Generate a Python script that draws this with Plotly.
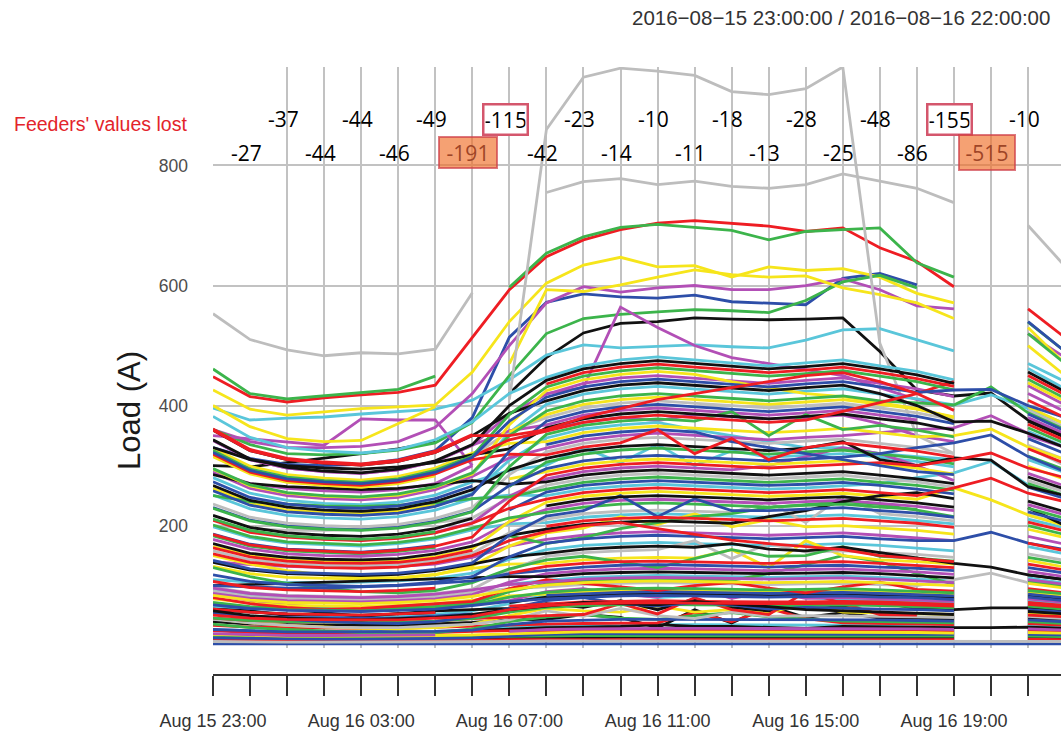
import plotly.graph_objects as go
from itertools import zip_longest

# Hourly timestamps, 2016-08-15 23:00 .. 2016-08-16 22:00
times = [
    "2016-08-15 23:00", "2016-08-16 00:00", "2016-08-16 01:00", "2016-08-16 02:00",
    "2016-08-16 03:00", "2016-08-16 04:00", "2016-08-16 05:00", "2016-08-16 06:00",
    "2016-08-16 07:00", "2016-08-16 08:00", "2016-08-16 09:00", "2016-08-16 10:00",
    "2016-08-16 11:00", "2016-08-16 12:00", "2016-08-16 13:00", "2016-08-16 14:00",
    "2016-08-16 15:00", "2016-08-16 16:00", "2016-08-16 17:00", "2016-08-16 18:00",
    "2016-08-16 19:00", "2016-08-16 20:00", "2016-08-16 21:00", "2016-08-16 22:00",
]

# Number of feeders without a reading, per hour (Aug 16 00:00 .. 21:00)
lost_counts = [27, 37, 44, 44, 46, 49, 191, 115, 42, 23, 14, 10, 11, 18, 13, 28, 25, 48, 86, 155, 515, 10]

# Feeder loads (A), one list of 24 hourly readings per feeder, None = reading lost
black_feeders = [
    [300, 298, 305, 312, 320, 328, 339, None, 420, 480, 521, 537, 540, 546, 544, 543, 544, 546, 490, 426, 416, 421, 376, 350],
    [11, 10, 9, 9, 9, 9, 10, 10, 12, 13, 14, 14, 14, 14, 14, 14, 14, 14, 14, 13, 13, None, 14, 13],
    [26, 24, 22, 22, 22, 22, 23, 25, 28, 30, 31, 32, 35, 32, 32, 31, 29, 32, 31, 31, 30, 30, 31, 29],
    [40, 36, 35, 34, 34, 34, 36, 39, 43, 44, 52, 47, 30, 60, 38, 66, 47, 55, 46, 45, 44, None, 46, 42],
    [61, 58, 50, 55, 49, 53, 58, 60, 62, 70, 64, 75, 60, 78, 64, 58, 70, 65, 72, 62, 60, 63, 63, 59],
    [61, 56, 53, 52, 51, 53, 55, None, 72, 81, 84, 86, 87, 86, 85, 84, 85, 86, 84, 83, 80, None, 83, 77],
    [100, 102, 104, 106, 108, 110, 112, 113, 115, 115, 120, 122, 123, 122, 121, 120, 121, 122, 120, 117, 113, None, 118, 110],
    [139, 126, 120, 118, 117, 119, 125, 136, 148, 154, 161, 164, 166, 164, 170, 161, 158, 164, 155, 145, 137, 131, 118, 110],
    [170, 154, 147, 144, 143, 145, 153, 166, 184, 194, 202, 206, 208, 206, 204, 215, 225, 240, 250, 255, 245, None, 230, 200],
    [217, 197, 188, 184, 182, 186, 195, 212, None, 233, 243, 248, 250, 248, 246, 243, 246, 248, 243, 238, 231, None, 241, 223],
    [285, 270, 265, 262, 260, 262, 268, 275, 269, 273, 284, 290, 293, 290, 287, 284, 287, 290, 284, 278, 270, None, 281, 261],
    [267, 242, 231, 226, 224, 228, 240, 260, 293, 312, 325, 332, 335, 332, 329, 325, 329, 340, 310, 300, 313, 309, 265, 250],
    [330, 310, 300, 296, 294, 298, 305, 318, 328, 363, 378, 386, 390, 386, 382, 378, 382, 386, 378, 371, 359, None, 374, 347],
    [359, 325, 310, 304, 301, 307, 322, 350, 387, 408, 425, 434, 438, 434, 430, 425, 430, 434, 420, 400, 373, 374, 354, 330],
    [343, 311, 297, 291, 288, 294, 308, 335, 400, 442, 461, 470, 475, 470, 465, 461, 465, 470, 461, 451, 437, None, 456, 423],
    [58, 50, 46, 44, 43, 45, 47, 52, 60, 66, 72, 70, 68, 74, 70, 65, 60, 58, 56, 55, 52, None, 57, 53],
]

red_feeders = [
    [448, 415, 406, 413, 418, 422, 434, 513, 593, 648, 676, 693, 704, 708, 704, 699, 690, 696, 663, 640, 598, None, 561, 513],
    [9, 9, 8, 8, 8, 8, 9, 9, 10, 10, 11, 11, 11, 11, 11, 11, 11, 11, 11, 11, 10, None, 11, 10],
    [25, 22, 21, 21, 21, 21, 22, 24, 25, 24, 25, 26, 26, 26, 26, 25, 26, 26, 25, 25, 24, None, 25, 23],
    [34, 31, 30, 29, 29, 29, 31, 33, 35, 36, 37, 38, 38, 55, 40, 62, 45, 38, 37, 36, 35, None, 37, 34],
    [46, 42, 40, 39, 39, 39, 41, 45, 48, 50, 52, 70, 53, 80, 60, 52, 90, 70, 52, 51, None, None, 51, 48],
    [61, 56, 53, 52, 51, 53, 55, None, 66, 70, 73, 74, 75, 74, 73, 73, 73, 74, 73, 71, 69, None, 72, 67],
    [80, 70, 64, 60, 62, 66, 70, 74, 95, 110, 104, 98, 92, 100, 105, 96, 88, 98, 106, 94, 91, None, 95, 88],
    [107, 97, 93, 91, 90, 92, 96, None, 121, 132, 137, 140, 141, 140, 139, 137, 139, 140, 137, 134, 130, None, 136, 126],
    [153, 139, 133, 130, 129, 131, 138, 150, 175, 190, 200, 205, 195, 185, 176, 170, 165, 160, 150, 145, 140, None, 171, 158],
    [163, 148, 141, 138, 137, 139, 146, 159, None, 199, 208, 212, 214, 212, 210, 208, 210, 212, 208, 204, 197, None, 206, 191],
    [209, 189, 181, 177, 175, 179, 188, 204, 229, 244, 255, 260, 263, 260, 257, 255, 257, 260, 255, 250, 263, 279, 254, 240],
    [185, 168, 160, 157, 155, 159, 166, 181, 241, 284, 296, 302, 305, 302, 299, 296, 299, 302, 305, 300, 309, 321, 296, 280],
    [319, 289, 275, 270, 267, 273, 286, 310, 319, 318, 331, 338, 360, 320, 345, 310, 330, 338, 331, 324, 314, None, 328, 304],
    [323, 293, 279, 274, 271, 277, 290, 315, 343, 357, 372, 380, 384, 380, 376, 372, 376, 390, 405, 420, 440, None, 369, 342],
    [359, 325, 310, 304, 301, 307, 322, 350, 350, 360, 380, 395, 410, 420, 430, 440, 450, 455, 440, 420, 392, None, 409, 380],
    [361, 327, 312, 306, 303, 309, 324, 352, None, 436, 455, 464, 469, 464, 459, 455, 459, 464, 455, 445, 432, None, 450, 418],
    [51, 46, 44, 43, 43, 43, 46, 49, 60, 67, 70, 71, 72, 71, 70, 70, 70, 71, 70, 68, 66, None, 69, 64],
]

green_feeders = [
    [461, 420, 411, 416, 421, 427, 449, None, 597, 654, 681, 697, 702, 697, 692, 676, 690, 693, 696, 638, 614, None, 539, 490],
    [360, 335, 320, 318, 320, 326, 338, 372, 450, 520, 545, 552, 556, 560, 558, 555, 575, 606, 617, 596, None, None, 520, 470],
    [15, 14, 13, 13, 13, 13, 14, 15, 16, 16, 17, 17, 17, 17, 17, 17, 17, 17, 17, 16, 16, None, 16, 15],
    [36, 30, 27, 24, 22, 20, 22, 28, 40, 48, 52, 46, 44, 50, 55, 48, 45, 41, 40, 39, 38, None, 40, 37],
    [46, 42, 40, 39, 39, 39, 41, 45, 56, 64, 67, 68, 69, 68, 67, 67, 67, 68, 67, 65, 63, None, 66, 61],
    [72, 65, 62, 61, 60, 62, 65, 70, 90, 103, 108, 110, 111, 110, 109, 120, 135, 150, 140, 120, 102, None, 107, 99],
    [130, 115, 104, 96, 90, 88, 92, 105, 128, 143, 149, 140, 130, 145, 160, 149, 150, 165, 149, 146, 141, None, 147, 137],
    [183, 166, 158, 155, 153, 157, 164, None, 183, 170, 180, 195, 205, 215, 220, 230, 235, 240, 235, 226, 215, None, 200, 185],
    [201, 182, 173, 170, 168, 172, 180, 196, 213, 222, 231, 236, 238, 236, 234, 231, 234, 236, 231, 227, None, None, 229, 212],
    [250, 240, 236, 233, 232, 234, 238, 245, 248, 261, 272, 278, 281, 278, 275, 272, 275, 278, 272, 267, 259, None, 270, 250],
    [211, 192, 183, 179, 177, 181, 190, None, 265, 306, 319, 326, 329, 326, 323, 319, 323, 326, 319, 313, 303, None, 316, 293],
    [229, 208, 198, 194, 192, 196, 206, 223, 298, 352, 367, 374, 378, 374, 390, 350, 385, 360, 367, 359, 348, None, 363, 337],
    [295, 268, 255, 250, 248, 253, 265, 288, 350, 391, 408, 416, 420, 416, 412, 408, 412, 416, 408, 405, 401, 431, 388, 360],
    [325, 294, 281, 275, 272, 278, 292, 316, 385, 431, 449, 458, 463, 458, 453, 449, 453, 458, 449, 440, 426, None, 444, 412],
    [70, 63, 60, 59, 58, 60, 63, 68, 81, 89, 93, 95, 96, 95, 94, 93, 94, 95, 93, 91, 88, None, 92, 86],
]

blue_feeders = [
    [330, 312, 302, 300, 302, 310, 325, 380, 514, 572, 586, 581, 579, 584, 573, 570, 568, 612, 620, 601, None, None, 540, 490],
    [3, 3, 3, 3, 3, 3, 3, 3, 3, 3, 3, 3, 3, 3, 3, 3, 3, 3, 3, 3, 3, 3, 3, 3],
    [13, 12, 11, 11, 11, 11, 12, 13, 16, 19, 20, 20, 20, 20, 20, 20, 20, 20, 20, 19, 19, None, 19, 18],
    [27, 25, 23, 23, 23, 23, 24, 26, 35, 41, 43, 44, 44, 44, 44, 43, 44, 44, 43, 42, 41, None, 43, 40],
    [55, 48, 44, 40, 38, 37, 40, 48, 62, 75, 80, 70, 66, 72, 68, 61, 64, 62, 61, 60, 58, None, 60, 56],
    [54, 49, 47, 46, 46, 46, 49, 53, None, 84, 87, 89, 90, 89, 88, 87, 88, 89, 87, 85, 83, None, 86, 80],
    [100, 98, 96, 96, 98, 100, 104, 108, 120, 126, 131, 134, 135, 134, 133, 131, 133, 134, 131, 129, 125, None, 130, 121],
    [118, 107, 102, 100, 99, 101, 106, 115, 148, 171, 178, 182, 184, 182, 180, 178, 180, 182, 178, 175, 175, 189, 171, 160],
    [142, 128, 122, 120, 119, 121, 127, 138, 184, 216, 225, 250, 215, 245, 225, 225, 228, 230, 225, 221, 214, None, 223, 207],
    [186, 169, 161, 158, 156, 160, 167, None, 226, 256, 267, 272, 275, 272, 269, 267, 269, 272, 267, 261, 253, None, 264, 245],
    [230, 209, 199, 195, 193, 197, 207, 224, 267, 295, 308, 314, 317, 314, 311, 308, 311, 314, 320, 330, 338, 351, 315, 290],
    [273, 247, 236, 231, 229, 233, 245, 266, None, 335, 349, 356, 360, 356, 340, 330, 320, 310, 300, 290, 285, None, 345, 320],
    [258, 234, 223, 219, 217, 221, 232, 252, 324, 374, 390, 398, 402, 398, 394, 390, 394, 398, 390, 382, 370, None, 386, 358],
    [322, 292, 278, 273, 270, 276, 289, 314, 374, 414, 431, 440, 444, 440, 436, 431, 436, 440, 431, 422, 426, 427, 400, 380],
    [68, 62, 59, 58, 57, 59, 61, 67, 74, 78, 81, 83, 84, 83, 82, 81, 82, 83, 81, 80, 77, None, 81, 75],
]

cyan_feeders = [
    [396, 376, 379, 381, 386, 390, 394, 409, 443, 484, 501, 496, 498, 501, 498, 496, 509, 526, 528, 509, 491, None, 470, 440],
    [27, 25, 23, 23, 23, 23, 24, 26, 31, 33, 34, 35, 35, 35, 35, 34, 35, 35, 34, 34, 33, None, 34, 32],
    [66, 58, 52, 49, 47, 48, 52, 58, 70, 85, 90, 88, 80, 84, 92, 86, 80, 77, 75, 74, 72, None, 75, 69],
    [93, 85, 81, 79, 78, 80, 84, None, 102, 109, 114, 116, 117, 116, 115, 114, 115, 116, 114, 111, 108, None, 113, 104],
    [110, 106, 105, 105, 106, 108, 112, 121, 144, 160, 167, 170, 172, 170, 168, 167, 168, 170, 167, 163, 158, None, 165, 153],
    [198, 180, 171, 168, 166, 170, 178, 193, 203, 205, 214, 218, 220, 218, 216, 214, 216, 218, 214, 209, 203, None, 211, 196],
    [251, 228, 217, 213, 211, 215, 226, 245, 251, 250, 261, 266, 269, 266, 263, 261, 263, 266, 270, 280, 288, 307, 268, 250],
    [280, 254, 242, 237, 235, 239, 251, 273, 292, 301, 330, 305, 335, 300, 325, 314, 317, 320, 314, 307, 298, None, 310, 288],
    [261, 236, 225, 221, 219, 223, 234, 254, 309, 346, 361, 368, 372, 360, 350, 340, 330, 330, 320, 315, 310, None, 357, 331],
    [293, 265, 253, 248, 246, 250, 263, 285, 355, 402, 419, 428, 432, 428, 424, 419, 424, 428, 419, 411, 401, 418, 395, 370],
    [382, 347, 330, 324, 321, 327, 343, 373, 420, 447, 466, 476, 481, 476, 471, 466, 471, 476, 466, 457, 443, None, 462, 428],
]

magenta_feeders = [
    [360, 340, 330, 330, 332, 340, 364, 420, 500, 571, 598, 589, 596, 600, 593, 593, 600, 611, 593, 566, 561, None, 520, 480],
    [350, 345, 340, 334, 378, 376, 376, 300, None, 360, 372, 380, 375, 385, 382, 378, 380, 384, 370, 350, 340, None, 350, 330],
    [290, 270, 262, 258, 256, 260, 270, 300, None, 420, 430, 564, 530, 500, 480, 470, 460, 450, 430, 410, 400, None, 420, 390],
    [20, 18, 17, 17, 17, 17, 18, None, 24, 27, 28, 29, 29, 29, 29, 28, 29, 29, 28, 28, 27, None, 28, 26],
    [85, 75, 68, 64, 62, 63, 66, 71, 75, 90, 95, 85, 81, 96, 79, 90, 79, 80, 78, 77, 74, None, 78, 72],
    [87, 79, 75, 74, 73, 75, 78, 85, 106, 120, 125, 128, 129, 128, 127, 125, 127, 128, 125, 123, 119, None, 124, 115],
    [140, 135, 132, 130, 130, 132, 136, 147, 166, 177, 184, 188, 190, 188, 186, 184, 186, 188, 184, 180, 175, None, 182, 169],
    [177, 161, 153, 150, 149, 152, 159, 173, 206, 227, 237, 242, 244, 242, 240, 237, 240, 242, 237, 232, 225, None, 235, 218],
    [210, 190, 182, 178, 176, 180, 189, 205, 249, 278, 290, 296, 299, 296, 293, 300, 315, 330, 320, 300, 275, None, 287, 266],
    [289, 262, 250, 245, 243, 247, 260, 282, 313, 329, 343, 350, 354, 350, 347, 343, 347, 350, 355, 360, 363, 383, 354, 330],
    [342, 310, 296, 290, 287, 293, 307, 334, 358, 368, 384, 392, 396, 392, 388, 384, 388, 392, 384, 376, None, None, 380, 353],
    [342, 310, 296, 290, 287, 293, 307, 334, 386, 419, 437, 446, 450, 446, 442, 437, 442, 446, 437, 428, 415, None, 433, 401],
    [96, 87, 83, 81, 80, 82, 86, 93, 102, 106, 111, 113, 114, 113, 112, 111, 112, 113, 111, 108, 105, None, 110, 102],
]

yellow_feeders = [
    [426, 394, 384, 389, 395, 398, 401, 456, 540, 604, 634, 647, 631, 633, 614, 631, 625, 628, 614, 587, 571, None, 530, 470],
    [400, 365, 345, 340, 342, 370, 398, None, 470, 593, 590, 601, 614, 626, 618, 614, 616, 596, 585, 571, 545, None, 500, 450],
    [19, 17, 16, 16, 16, 16, 17, 18, 20, 22, 23, 23, 23, 23, 23, 22, 23, 23, 23, 22, 21, None, 22, 21],
    [45, 38, 34, 31, 29, 28, 30, 36, 50, 62, 58, 56, 66, 56, 60, 55, 70, 56, 55, 54, 52, None, 54, 50],
    [78, 71, 67, 66, 65, 67, 70, 76, 83, 86, 90, 92, 93, 92, 91, 90, 91, 92, 90, 88, 86, None, 89, 83],
    [132, 120, 114, 112, 111, 113, 119, 129, 136, 137, 143, 146, 147, 146, 160, 130, 175, 150, 143, 140, 136, None, 142, 131],
    [150, 136, 125, 118, 114, 113, 118, 133, 166, 188, 196, 215, 202, 220, 198, 210, 198, 200, 196, 192, 186, None, 194, 180],
    [165, 150, 143, 140, 139, 141, 148, 161, 207, 239, 249, 254, 257, 254, 251, 249, 251, 254, 249, 244, 263, 243, 218, 200],
    [262, 238, 226, 222, 220, 224, 235, None, 278, 290, 302, 308, 311, 308, 305, 302, 305, 308, 302, 296, 286, None, 299, 277],
    [329, 299, 285, 279, 276, 282, 296, 321, 337, 340, 355, 362, 366, 362, 358, 355, 358, 362, 355, 348, 350, 361, 331, 310],
    [315, 286, 272, 267, 264, 270, 283, None, 356, 385, 402, 410, 414, 410, 406, 402, 406, 410, 402, 394, 381, None, 398, 369],
    [294, 266, 254, 249, 247, 251, 264, 286, 368, 425, 443, 452, 457, 452, 440, 430, 420, 415, 405, 395, 380, None, 438, 407],
    [84, 76, 72, 71, 70, 72, 75, 82, 93, 101, 105, 107, 108, 107, 106, 105, 106, 107, 105, 103, 100, None, 104, 96],
]

gray_feeders = [
    [553, 510, 493, 483, 488, 486, 494, 588, None, 755, 773, 778, 768, 774, 765, 762, 768, 786, 774, 762, 738, None, 700, 632],
    [260, 245, 236, 232, 230, 232, 240, None, 410, 860, 947, 962, 957, 950, 923, 918, 928, 964, 504, 350, 320, None, 330, 300],
    [7, 6, 6, 6, 6, 6, 6, 7, 7, 8, 8, 8, 8, 8, 8, 8, 8, 8, 8, 8, 7, 7, 8, 7],
    [44, 38, 34, 31, 30, 30, 33, 36, 43, 58, 49, 62, 50, 45, 56, 49, 50, 50, 49, 48, 47, None, 49, 45],
    [91, 82, 79, 77, 76, 78, 82, 89, 95, 98, 102, 104, 105, 104, 103, 102, 103, 104, 102, 100, 110, 121, 105, 97],
    [97, 88, 84, 82, 81, 83, 87, 94, 126, 149, 155, 158, 160, 175, 145, 170, 156, 158, 155, 152, 147, None, 153, 142],
    [158, 143, 137, 134, 133, 135, 142, 154, 188, 211, 220, 224, 226, 224, 222, 240, 205, 250, 220, 215, 208, None, 217, 202],
    [200, 195, 192, 192, 194, 198, 205, 213, 246, 267, 278, 284, 287, 284, 281, 278, 281, 284, 278, 273, 264, None, 275, 256],
    [236, 214, 204, 200, 198, 202, 212, 230, 285, 323, 337, 344, 347, 344, 341, 337, 341, 344, 337, 330, 320, None, 334, 310],
    [325, 294, 281, 275, 272, 278, 292, 316, 357, 380, 396, 404, 408, 404, 400, 396, 400, 404, 396, 388, 376, None, 392, 364],
]

palette = [
    ("#111111", black_feeders),
    ("#ee1d23", red_feeders),
    ("#3cb44b", green_feeders),
    ("#2d4ea8", blue_feeders),
    ("#5ac6da", cyan_feeders),
    ("#b24fb6", magenta_feeders),
    ("#f6e51b", yellow_feeders),
    ("#bdbdbd", gray_feeders),
]

fig = go.Figure()

# interleave the colour groups so no single colour sits on top
for row in zip_longest(*[[(c, s) for s in group] for c, group in palette]):
    for item in row:
        if item is None:
            continue
        color, series = item
        fig.add_trace(go.Scatter(
            x=times, y=series, mode="lines", connectgaps=False,
            line=dict(color=color, width=2.8),
            hoverinfo="skip", showlegend=False,
        ))

# carrier trace for the separate time axis drawn below the plot
fig.add_trace(go.Scatter(x=[times[0]], y=[None], xaxis="x2", yaxis="y",
                         mode="lines", showlegend=False, hoverinfo="skip"))

x_range = ["2016-08-15 23:00", "2016-08-16 21:53:24"]
grid = "#c2c2c2"

fig.update_layout(
    width=1061, height=738,
    margin=dict(l=213, r=0, t=67, b=63),
    paper_bgcolor="white", plot_bgcolor="white",
    showlegend=False,
    xaxis=dict(
        type="date", range=x_range,
        tickmode="array", tickvals=times[2:], showticklabels=False, ticks="",
        showgrid=True, gridcolor=grid, gridwidth=1.5,
        zeroline=False, showline=False,
    ),
    xaxis2=dict(
        type="date", range=x_range, overlaying="x", anchor="free", position=0, side="bottom",
        tickmode="array", tickvals=times[0::4], tickformat="%b %d %H:%M",
        ticks="outside", ticklen=20, tickwidth=1.6, tickcolor="#333333",
        showline=True, linecolor="#333333", linewidth=1.6,
        showgrid=False, zeroline=False,
        tickfont=dict(family="Liberation Sans", size=18, color="#333333"),
        ticklabelstandoff=10,
        minor=dict(tickmode="array", tickvals=times, ticks="outside", ticklen=20,
                   tickwidth=1.6, tickcolor="#333333", showgrid=False),
    ),
    yaxis=dict(
        domain=[0.0452, 1], range=[-3, 964],
        tickmode="array", tickvals=[200, 400, 600, 800],
        showgrid=True, gridcolor=grid, gridwidth=1.5,
        zeroline=False, showline=False, ticks="",
        tickfont=dict(family="Liberation Sans", size=17.5, color="#4d4d4d"),
        ticklabelstandoff=24,
    ),
)

annotations = [
    dict(text="Load (A)", textangle=-90, xref="paper", yref="paper",
         x=-0.0979, y=0.436, xanchor="center", yanchor="middle", showarrow=False,
         font=dict(family="Liberation Sans", size=31, color="#1a1a1a")),
    dict(text="Feeders' values lost", xref="paper", yref="paper",
         x=-0.237, y=0.906, xanchor="left", yanchor="middle", showarrow=False,
         font=dict(family="Liberation Sans", size=19.5, color="#e3242b")),
    dict(text="2016\u221208\u221215 23:00:00 / 2016\u221208\u221216 22:00:00",
         xref="paper", yref="paper", x=0.989, y=1.0814, xanchor="right", yanchor="middle",
         showarrow=False,
         font=dict(family="Liberation Sans", size=20.5, color="#333333")),
]

# per-hour counts of lost feeder readings, staggered on two rows
for hour, count in enumerate(lost_counts, start=1):
    ann = dict(
        x=times[hour], y=877 if hour % 2 == 0 else 821, xref="x", yref="y",
        text=f"-{count}", showarrow=False, xshift=-4,
        font=dict(family="Open Sans", size=21, color="black"),
    )
    if count >= 180:
        ann.update(bgcolor="rgba(240,112,42,0.66)", bordercolor="rgba(206,62,72,0.7)",
                   borderwidth=2, borderpad=1, width=54 if count < 300 else 52,
                   height=27 if count < 300 else 31,
                   font=dict(family="Open Sans", size=21, color="#9e4527"))
    elif count >= 100:
        ann.update(bgcolor="white", bordercolor="#d4566c", borderwidth=2.5,
                   borderpad=1, width=40, height=26)
    annotations.append(ann)

fig.update_layout(annotations=annotations)

fig.write_html("out.html")
